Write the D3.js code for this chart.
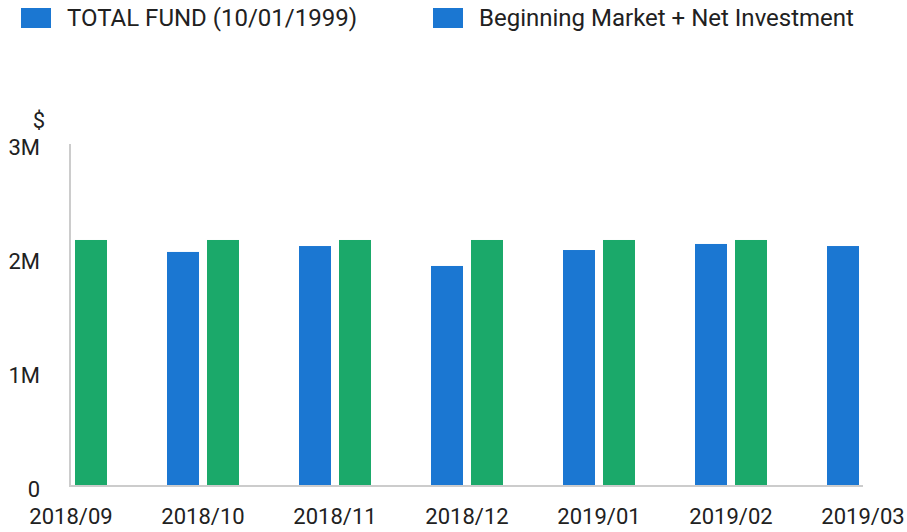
<!DOCTYPE html>
<html>
<head>
<meta charset="utf-8">
<script src="https://cdn.jsdelivr.net/npm/d3@7"></script>
<style>
  body { margin: 0; background: #fff; }
  svg text { font-family: Roboto, "Noto Sans", sans-serif; fill: #212121; }
</style>
</head>
<body>
<div id="chart"></div>
<script>
// dati del grafico
const months = ["2018/09", "2018/10", "2018/11", "2018/12", "2019/01", "2019/02", "2019/03"];
const totalFund = [null, 2.053e6, 2.105e6, 1.93e6, 2.07e6, 2.123e6, 2.105e6];
const beginningNet = [2.158e6, 2.158e6, 2.158e6, 2.158e6, 2.158e6, 2.158e6, null];
const yTicks = [0, 1e6, 2e6, 3e6];
const yTickLabels = ["0", "1M", "2M", "3M"];
const seriesNames = ["TOTAL FUND (10/01/1999)", "Beginning Market + Net Investment"];

const width = 907;
const height = 532;
const blue = "#1b77d2";
const green = "#1ba96a";
const barW = 32;

const svg = d3.select("#chart").append("svg").attr("width", width).attr("height", height);

const x = d3.scalePoint().domain(months).range([71, 863]);
const y = d3.scaleLinear().domain([0, 3e6]).range([486, 144]);

// legenda (entrambi i quadrati blu come nell'originale)
const legend = [
  { name: seriesNames[0], x: 21 },
  { name: seriesNames[1], x: 433 },
];
legend.forEach((l) => {
  svg.append("rect").attr("x", l.x).attr("y", 8).attr("width", 30).attr("height", 20).attr("fill", blue);
  svg.append("text")
    .attr("x", l.x + 46)
    .attr("y", 18)
    .attr("dominant-baseline", "central")
    .attr("font-size", "24px")
    .text(l.name);
});

// barre
const bars = svg.append("g");
months.forEach((m, i) => {
  const cx = x(m);
  if (totalFund[i] != null) {
    bars.append("rect")
      .attr("x", cx - 4 - barW)
      .attr("y", y(totalFund[i]))
      .attr("width", barW)
      .attr("height", y(0) - 1 - y(totalFund[i]))
      .attr("fill", blue);
  }
  if (beginningNet[i] != null) {
    bars.append("rect")
      .attr("x", cx + 4)
      .attr("y", y(beginningNet[i]))
      .attr("width", barW)
      .attr("height", y(0) - 1 - y(beginningNet[i]))
      .attr("fill", green);
  }
});

// assi
svg.append("line").attr("x1", 70).attr("x2", 70).attr("y1", y(3e6)).attr("y2", y(0) + 1)
  .attr("stroke", "#cccccc").attr("stroke-width", 2);
svg.append("line").attr("x1", 69).attr("x2", 863).attr("y1", y(0)).attr("y2", y(0))
  .attr("stroke", "#cccccc").attr("stroke-width", 2);

// etichette asse y
yTicks.forEach((t, i) => {
  svg.append("text")
    .attr("x", 40)
    .attr("y", y(t) + 3)
    .attr("text-anchor", "end")
    .attr("dominant-baseline", "central")
    .attr("font-size", "22px")
    .text(yTickLabels[i]);
});
svg.append("text")
  .attr("x", 39)
  .attr("y", 120)
  .attr("text-anchor", "middle")
  .attr("dominant-baseline", "central")
  .attr("font-size", "22px")
  .text("$");

// etichette asse x
months.forEach((m) => {
  svg.append("text")
    .attr("x", x(m))
    .attr("y", 516)
    .attr("text-anchor", "middle")
    .attr("dominant-baseline", "central")
    .attr("font-size", "22px")
    .text(m);
});
</script>
</body>
</html>
